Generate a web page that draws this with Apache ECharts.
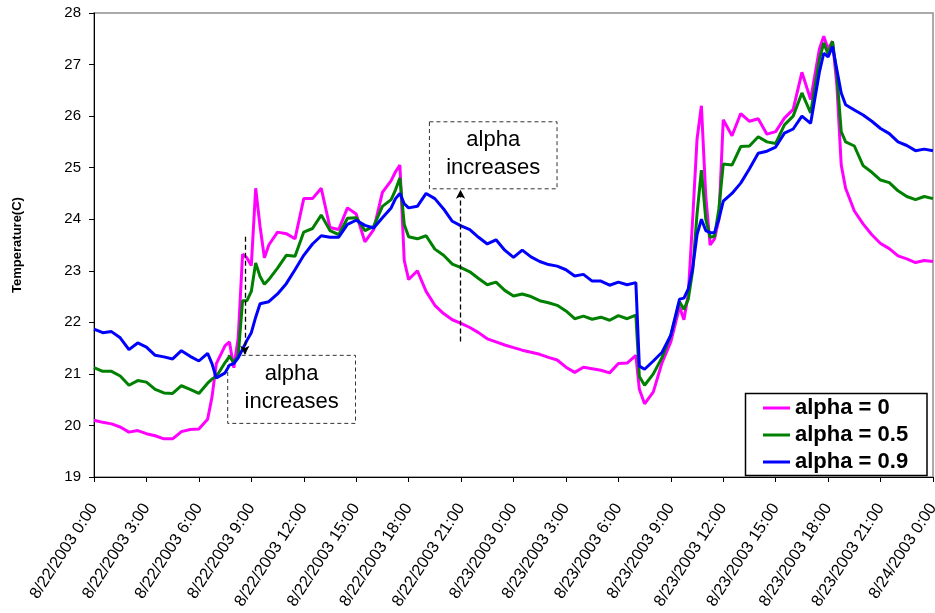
<!DOCTYPE html>
<html>
<head>
<meta charset="utf-8">
<title>Temperature, alpha comparison</title>
<script src="https://cdn.jsdelivr.net/npm/echarts@6/dist/echarts.min.js"></script>
<style>
  html, body { margin: 0; padding: 0; background: #fff; }
  #chart { width: 935px; height: 613px; }
</style>
</head>
<body>
<div id="chart"></div>
<script>
// Elapsed hours since 8/22/2003 0:00 for each sample
const hours = [
  0, 0.5, 1, 1.5, 2, 2.5, 3, 3.5, 4, 4.5, 5, 5.5, 6, 6.5, 6.75, 7, 7.5, 7.75, 8, 8.25,
  8.5, 8.75, 9, 9.25, 9.5, 9.75, 10, 10.5, 11, 11.5, 12, 12.5, 13, 13.5, 14, 14.5, 15, 15.5,
  16, 16.5, 17, 17.25, 17.5, 17.75, 18, 18.5, 19, 19.5, 20, 20.5, 21, 21.5, 22, 22.5, 23, 23.5,
  24, 24.5, 25, 25.5, 26, 26.5, 27, 27.5, 28, 28.5, 29, 29.5, 30, 30.5, 31, 31.2, 31.5, 32,
  32.5, 33, 33.5, 33.75, 34, 34.25, 34.5, 34.75, 35, 35.25, 35.5, 35.75, 36, 36.5, 37, 37.5,
  38, 38.5, 39, 39.5, 40, 40.5, 41, 41.5, 41.75, 42, 42.25, 42.5, 42.75, 43, 43.5, 44, 44.5,
  45, 45.5, 46, 46.5, 47, 47.5, 48
];

// Temperature (C), alpha = 0
const alpha0 = [
  20.10, 20.06, 20.03, 19.97, 19.87, 19.90, 19.84, 19.80, 19.74, 19.74, 19.88, 19.92, 19.93, 20.12, 20.55, 21.20, 21.55, 21.62, 21.12, 21.70,
  23.32, 23.25, 23.10, 24.60, 23.86, 23.25, 23.50, 23.75, 23.72, 23.62, 24.40, 24.40, 24.60, 23.84, 23.80, 24.22, 24.10, 23.56,
  23.80, 24.52, 24.75, 24.92, 25.05, 23.20, 22.83, 23.00, 22.60, 22.33, 22.17, 22.05, 21.98, 21.90, 21.80, 21.68, 21.62, 21.56,
  21.51, 21.46, 21.42, 21.38, 21.32, 21.27, 21.13, 21.03, 21.13, 21.10, 21.07, 21.02, 21.20, 21.21, 21.36, 20.70, 20.42, 20.65,
  21.22, 21.62, 22.30, 22.05, 22.55, 24.00, 25.55, 26.20, 24.45, 23.50, 23.62, 24.00, 25.93, 25.62, 26.05, 25.90,
  25.95, 25.65, 25.70, 25.96, 26.13, 26.85, 26.32, 27.30, 27.55, 27.30, 27.45, 26.60, 25.05, 24.60, 24.16, 23.91, 23.70,
  23.53, 23.43, 23.29, 23.23, 23.16, 23.20, 23.18
];

// Temperature (C), alpha = 0.5
const alpha05 = [
  21.12, 21.05, 21.05, 20.96, 20.78, 20.87, 20.84, 20.70, 20.63, 20.62, 20.77, 20.70, 20.62, 20.82, 20.90, 20.95, 21.22, 21.34, 21.22, 21.35,
  22.42, 22.42, 22.60, 23.15, 22.89, 22.74, 22.83, 23.05, 23.30, 23.28, 23.75, 23.82, 24.08, 23.78, 23.70, 24.02, 24.03, 23.78,
  23.86, 24.25, 24.38, 24.57, 24.80, 23.90, 23.66, 23.62, 23.68, 23.42, 23.30, 23.13, 23.06, 22.98, 22.85, 22.73, 22.78, 22.62,
  22.51, 22.55, 22.50, 22.42, 22.38, 22.33, 22.22, 22.07, 22.12, 22.06, 22.10, 22.04, 22.13, 22.07, 22.14, 20.95, 20.78, 21.00,
  21.32, 21.75, 22.40, 22.25, 22.45, 23.00, 24.10, 24.95, 24.00, 23.65, 23.67, 24.20, 25.07, 25.05, 25.41, 25.42,
  25.60, 25.50, 25.47, 25.83, 26.00, 26.45, 26.06, 27.10, 27.42, 27.20, 27.45, 26.80, 25.70, 25.50, 25.42, 25.04, 24.91,
  24.76, 24.71, 24.55, 24.44, 24.38, 24.44, 24.40
];

// Temperature (C), alpha = 0.9
const alpha09 = [
  21.87, 21.80, 21.82, 21.70, 21.47, 21.60, 21.52, 21.36, 21.33, 21.29, 21.45, 21.34, 21.25, 21.40, 21.20, 20.92, 21.02, 21.17, 21.20, 21.31,
  21.48, 21.65, 21.80, 22.10, 22.36, 22.38, 22.40, 22.55, 22.75, 23.02, 23.30, 23.52, 23.68, 23.65, 23.65, 23.90, 23.98, 23.88,
  23.83, 24.03, 24.22, 24.40, 24.50, 24.30, 24.22, 24.25, 24.50, 24.40, 24.20, 23.96, 23.87, 23.80, 23.65, 23.52, 23.60, 23.40,
  23.26, 23.40, 23.27, 23.18, 23.12, 23.09, 23.02, 22.90, 22.93, 22.80, 22.80, 22.72, 22.78, 22.73, 22.77, 21.15, 21.09, 21.25,
  21.42, 21.75, 22.45, 22.47, 22.65, 23.05, 23.70, 24.00, 23.78, 23.74, 23.74, 24.00, 24.35, 24.50, 24.70, 24.98,
  25.28, 25.32, 25.40, 25.67, 25.75, 26.00, 25.86, 26.85, 27.22, 27.15, 27.35, 26.90, 26.45, 26.22, 26.12, 26.02, 25.90,
  25.76, 25.66, 25.50, 25.43, 25.33, 25.36, 25.33
];

const seriesNames = ['alpha = 0', 'alpha = 0.5', 'alpha = 0.9'];
const seriesColors = ['#FF00FF', '#008000', '#0000FF'];

// Labels for every 3-hour tick
const tickLabels = [
  '8/22/2003 0:00', '8/22/2003 3:00', '8/22/2003 6:00', '8/22/2003 9:00',
  '8/22/2003 12:00', '8/22/2003 15:00', '8/22/2003 18:00', '8/22/2003 21:00',
  '8/23/2003 0:00', '8/23/2003 3:00', '8/23/2003 6:00', '8/23/2003 9:00',
  '8/23/2003 12:00', '8/23/2003 15:00', '8/23/2003 18:00', '8/23/2003 21:00',
  '8/24/2003 0:00'
];

// Annotation boxes [hourFrom, tempTop, hourTo, tempBottom] and arrows [hour, tempFrom, tempTo]
const noteBoxes = [[7.65, 21.36, 14.96, 20.04], [19.19, 25.89, 26.49, 24.59]];
const noteArrows = [[8.63, 23.66, 21.37], [20.97, 21.63, 24.57]];
const noteText = 'alpha\nincreases';

const FONT = '"Liberation Sans", Arial, Helvetica, sans-serif';

const pair = (vals) => hours.map((h, i) => [h, vals[i]]);
const values = [alpha0, alpha05, alpha09];

const series = values.map((vals, i) => ({
  name: seriesNames[i],
  type: 'line',
  data: pair(vals),
  symbol: 'none',
  showSymbol: false,
  smooth: false,
  color: seriesColors[i],
  lineStyle: { width: 3, color: seriesColors[i] },
  emphasis: { disabled: true },
  z: 2 + i
}));

// Dashed call-out boxes and arrows live on an empty helper series
series.push({
  name: 'notes',
  type: 'line',
  data: [],
  silent: true,
  z: 6,
  markArea: {
    silent: true,
    itemStyle: {
      color: 'rgba(255,255,255,0)',
      borderColor: '#333',
      borderWidth: 1,
      borderType: [4, 3]
    },
    label: {
      show: true,
      position: 'inside',
      formatter: noteText,
      fontFamily: FONT,
      fontSize: 22,
      lineHeight: 28,
      color: '#000',
      offset: [0, -1]
    },
    data: noteBoxes.map(b => [{ coord: [b[0], b[1]] }, { coord: [b[2], b[3]] }])
  },
  markLine: {
    silent: true,
    symbol: ['none', 'arrow'],
    symbolSize: [7, 9],
    label: { show: false },
    lineStyle: { color: '#000', width: 1.3, type: [5, 3] },
    data: noteArrows.map(a => [{ coord: [a[0], a[1]] }, { coord: [a[0], a[2]] }])
  }
});

const chart = echarts.init(document.getElementById('chart'), null, { renderer: 'canvas' });
chart.setOption({
  animation: false,
  backgroundColor: '#fff',
  textStyle: { fontFamily: FONT },
  grid: {
    left: 94, right: 2, top: 13, bottom: 136,
    containLabel: false,
    outerBoundsMode: 'none',
    show: true,
    borderColor: '#8f8f8f',
    borderWidth: 1.5,
    backgroundColor: 'transparent'
  },
  legend: {
    data: seriesNames,
    orient: 'vertical',
    left: 763,
    top: 397,
    padding: 0,
    icon: 'rect',
    itemWidth: 27,
    itemHeight: 3,
    itemGap: 5,
    z: 10,
    selectedMode: false,
    textStyle: { fontFamily: FONT, fontSize: 22, fontWeight: 'bold', color: '#000', lineHeight: 22 }
  },
  graphic: [{
    type: 'rect',
    z: 8,
    shape: { x: 745.5, y: 393.5, width: 181.5, height: 82 },
    style: { fill: '#fff', stroke: '#000', lineWidth: 1.5 }
  }],
  xAxis: {
    type: 'value',
    min: 0,
    max: 48,
    interval: 3,
    splitLine: { show: false },
    axisLine: { show: true, onZero: false, lineStyle: { color: '#000', width: 1 } },
    axisTick: { show: true, length: 5, lineStyle: { color: '#000' } },
    axisLabel: {
      rotate: 57,
      align: 'right',
      verticalAlign: 'middle',
      margin: 28,
      showMinLabel: true,
      showMaxLabel: true,
      fontFamily: FONT,
      fontSize: 16.5,
      color: '#000',
      formatter: (v) => tickLabels[Math.round(v / 3)]
    }
  },
  yAxis: {
    type: 'value',
    min: 19,
    max: 28,
    interval: 1,
    name: 'Temperature(C)',
    nameLocation: 'middle',
    nameGap: 70,
    nameTextStyle: { fontFamily: FONT, fontSize: 13, fontWeight: 'bold', color: '#000' },
    splitLine: { show: false },
    axisLine: { show: true, lineStyle: { color: '#000', width: 1 } },
    axisTick: { show: true, length: 5, lineStyle: { color: '#000' } },
    axisLabel: { fontFamily: FONT, fontSize: 15, color: '#000', margin: 13 }
  },
  tooltip: { show: false },
  series: series
});
</script>
</body>
</html>
